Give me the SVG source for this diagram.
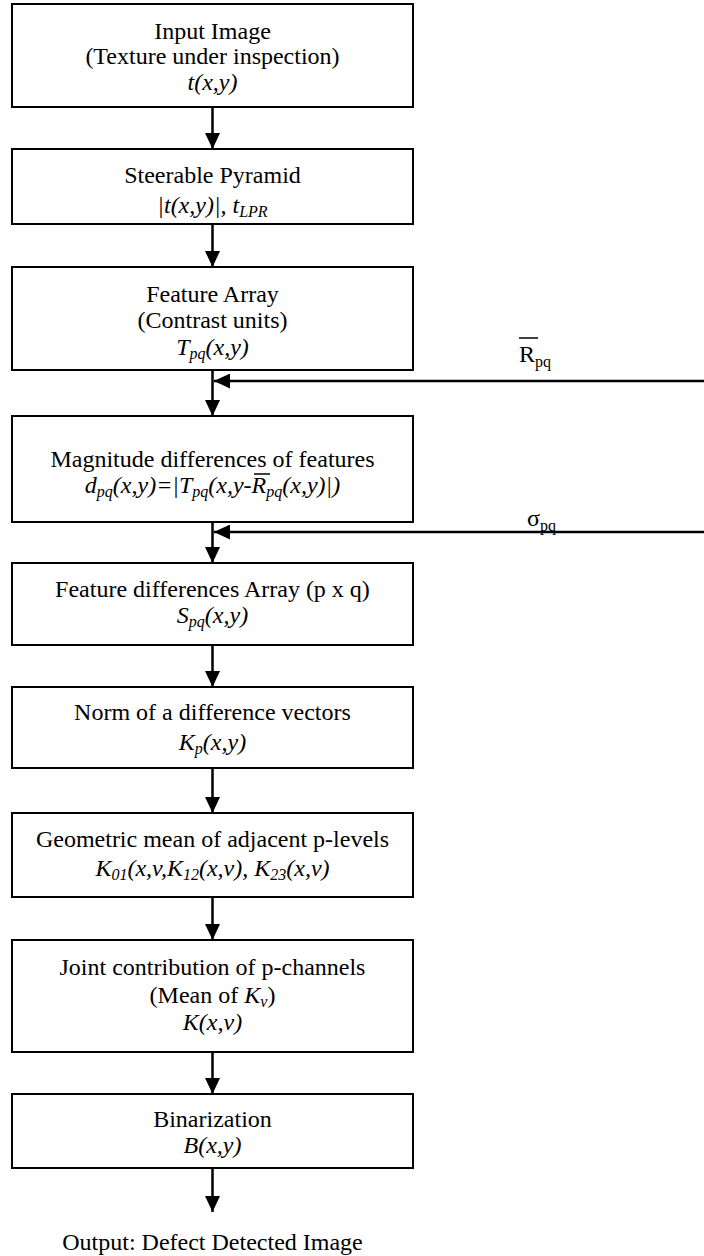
<svg xmlns="http://www.w3.org/2000/svg" width="704" height="1256" viewBox="0 0 704 1256">
<defs>
<style>
.box{fill:#fff;stroke:#000;stroke-width:2}
.t{font-family:"Liberation Serif","Times New Roman",serif;font-size:24px;fill:#000;text-anchor:middle}
.i{font-style:italic}
.s{font-size:16px}
.c{stroke:#000;stroke-width:2.5;fill:none}
.lbl{font-family:"Liberation Serif","Times New Roman",serif;font-size:24px;fill:#000}
</style>
<marker id="ah" viewBox="0 0 16 15" refX="16" refY="7.5" markerWidth="16" markerHeight="15" orient="auto" markerUnits="userSpaceOnUse">
<path d="M0,0 L16,7.5 L0,15 z" fill="#000"/>
</marker>
</defs>
<rect width="704" height="1256" fill="#fff"/>
<g id="connectors">
<line class="c" x1="212.5" y1="107" x2="212.5" y2="149" marker-end="url(#ah)"/>
<line class="c" x1="212.5" y1="224" x2="212.5" y2="267" marker-end="url(#ah)"/>
<line class="c" x1="212.5" y1="370" x2="212.5" y2="416" marker-end="url(#ah)"/>
<line class="c" x1="704" y1="381" x2="214" y2="381" marker-end="url(#ah)"/>
<line class="c" x1="212.5" y1="522" x2="212.5" y2="563" marker-end="url(#ah)"/>
<line class="c" x1="704" y1="532" x2="214" y2="532" marker-end="url(#ah)"/>
<line class="c" x1="212.5" y1="645" x2="212.5" y2="687" marker-end="url(#ah)"/>
<line class="c" x1="212.5" y1="768" x2="212.5" y2="813" marker-end="url(#ah)"/>
<line class="c" x1="212.5" y1="897" x2="212.5" y2="940" marker-end="url(#ah)"/>
<line class="c" x1="212.5" y1="1052" x2="212.5" y2="1094" marker-end="url(#ah)"/>
<line class="c" x1="212.5" y1="1168" x2="212.5" y2="1212" marker-end="url(#ah)"/>
<g id="label-rpq">
<text class="lbl" x="519" y="362">R<tspan class="s" dy="5">pq</tspan></text>
<line x1="519" y1="338" x2="538" y2="338" stroke="#000" stroke-width="1.5"/>
</g>
<g id="label-sigma">
<text class="lbl" x="527" y="526">σ<tspan class="s" dy="5">pq</tspan></text>
</g>
</g>
<g id="n1">
<rect class="box" x="12" y="4" width="401" height="103"/>
<text class="t" x="212.5" y="39">Input Image</text>
<text class="t" x="212.5" y="64">(Texture under inspection)</text>
<text class="t i" x="212.5" y="90">t(x,y)</text>
</g>
<g id="n2">
<rect class="box" x="12" y="149" width="401" height="75"/>
<text class="t" x="212.5" y="183">Steerable Pyramid</text>
<text class="t i" x="212.5" y="213">|t(x,y)|, t<tspan class="s" dy="4">LPR</tspan></text>
</g>
<g id="n3">
<rect class="box" x="12" y="267" width="401" height="103"/>
<text class="t" x="212.5" y="302">Feature Array</text>
<text class="t" x="212.5" y="328">(Contrast units)</text>
<text class="t i" x="212.5" y="355">T<tspan class="s" dy="4">pq</tspan><tspan dy="-4">(x,y)</tspan></text>
</g>
<g id="n4">
<rect class="box" x="12" y="416" width="401" height="106"/>
<text class="t" x="212.5" y="467">Magnitude differences of features</text>
<text class="t i" x="212.5" y="493">d<tspan class="s" dy="4">pq</tspan><tspan dy="-4">(x,y)=|T</tspan><tspan class="s" dy="4">pq</tspan><tspan dy="-4">(x,y-R</tspan><tspan class="s" dy="4">pq</tspan><tspan dy="-4">(x,y)|)</tspan></text>
<line x1="254" y1="474" x2="270" y2="474" stroke="#000" stroke-width="1.5"/>
</g>
<g id="n5">
<rect class="box" x="12" y="563" width="401" height="82"/>
<text class="t" x="212.5" y="597">Feature differences Array (p x q)</text>
<text class="t i" x="212.5" y="623">S<tspan class="s" dy="4">pq</tspan><tspan dy="-4">(x,y)</tspan></text>
</g>
<g id="n6">
<rect class="box" x="12" y="687" width="401" height="81"/>
<text class="t" x="212.5" y="720">Norm of a difference vectors</text>
<text class="t i" x="212.5" y="750">K<tspan class="s" dy="4">p</tspan><tspan dy="-4">(x,y)</tspan></text>
</g>
<g id="n7">
<rect class="box" x="12" y="813" width="401" height="84"/>
<text class="t" x="212.5" y="847">Geometric mean of adjacent p-levels</text>
<text class="t i" x="212.5" y="876">K<tspan class="s" dy="4">01</tspan><tspan dy="-4">(x,v,K</tspan><tspan class="s" dy="4">12</tspan><tspan dy="-4">(x,v), K</tspan><tspan class="s" dy="4">23</tspan><tspan dy="-4">(x,v)</tspan></text>
</g>
<g id="n8">
<rect class="box" x="12" y="940" width="401" height="112"/>
<text class="t" x="212.5" y="975">Joint contribution of p-channels</text>
<text class="t" x="212.5" y="1003">(Mean of <tspan class="i">K</tspan><tspan class="s i" dy="4">v</tspan><tspan dy="-4">)</tspan></text>
<text class="t i" x="212.5" y="1030">K(x,v)</text>
</g>
<g id="n9">
<rect class="box" x="12" y="1094" width="401" height="74"/>
<text class="t" x="212.5" y="1127">Binarization</text>
<text class="t i" x="212.5" y="1153">B(x,y)</text>
</g>
<g id="out">
<text class="t" x="212.5" y="1250">Output: Defect Detected Image</text>
</g>
</svg>
